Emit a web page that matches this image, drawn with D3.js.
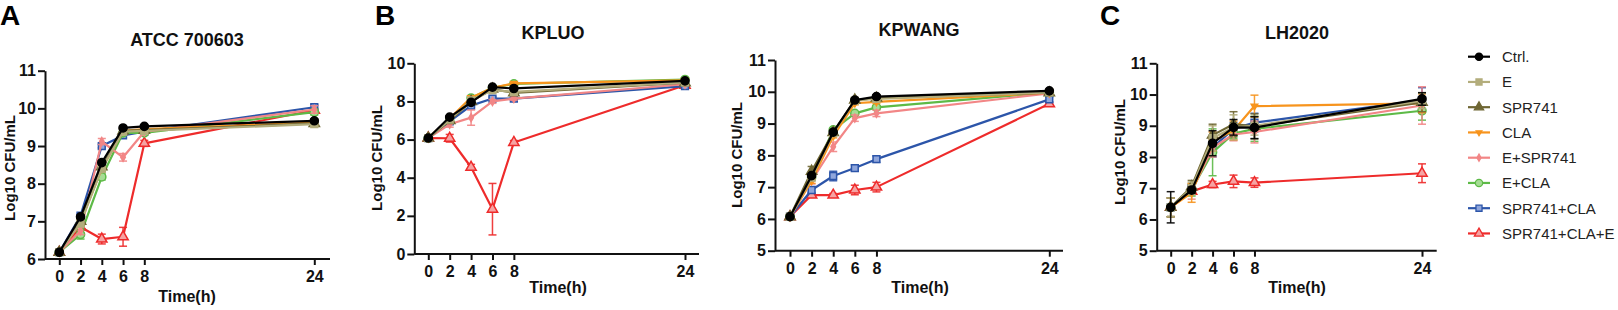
<!DOCTYPE html>
<html>
<head>
<meta charset="utf-8">
<script src="https://cdn.jsdelivr.net/npm/d3@7"></script>
<style>
  html, body { margin: 0; padding: 0; background: #fff; }
  svg { display: block; }
  text { font-family: "Liberation Sans", Arial, Helvetica, sans-serif; }
</style>
</head>
<body>
<svg id="chart" width="1618" height="310"></svg>
<script>
// ---------- data ----------
const times = [0, 2, 4, 6, 8, 24];
const timeTicks = [0, 2, 4, 6, 8, 24];
const seriesNames = ["Ctrl.", "E", "SPR741", "CLA", "E+SPR741", "E+CLA", "SPR741+CLA", "SPR741+CLA+E"];
const seriesColors = ["#000000", "#b3ad7c", "#6e6633", "#f7941d", "#f28686", "#5dba47", "#2c55a9", "#ee2b2b"];
const seriesFills  = ["#000000", "#b3ad7c", "#6e6633", "#f7941d", "#f28686", "#a6dc95", "#8fa6dc", "#f6a3a3"];

const panelTitles = ["ATCC 700603", "KPLUO", "KPWANG", "LH2020"];
const panelLetters = ["A", "B", "C"];
const yTicksATCC = [6, 7, 8, 9, 10, 11];
const yTicksKPLUO = [0, 2, 4, 6, 8, 10];
const yTicksKPWANG = [5, 6, 7, 8, 9, 10, 11];
const yTicksLH2020 = [5, 6, 7, 8, 9, 10, 11];

// values (Log10 CFU/mL), one row per series in seriesNames order
const atccValues = [
  [6.18, 7.12, 8.56, 9.48, 9.52, 9.67],
  [6.18, 6.95, 8.40, 9.38, 9.40, 9.58],
  [6.18, 7.00, 8.45, 9.40, 9.42, 9.60],
  [6.18, 6.98, 8.40, 9.40, 9.45, 9.62],
  [6.18, 6.75, 9.12, 8.70, 9.38, 9.97],
  [6.18, 6.65, 8.18, 9.35, 9.35, 9.90],
  [6.18, 7.15, 9.00, 9.28, 9.38, 10.03],
  [6.18, 6.85, 6.53, 6.59, 9.07, 9.95]
];
const atccErrors = [
  [0.03, 0.05, 0.05, 0.05, 0.04, 0.05],
  [0.03, 0.10, 0.10, 0.05, 0.05, 0.05],
  [0.03, 0.08, 0.08, 0.05, 0.05, 0.05],
  [0.03, 0.08, 0.08, 0.05, 0.05, 0.05],
  [0.03, 0.10, 0.08, 0.10, 0.05, 0.10],
  [0.03, 0.12, 0.08, 0.05, 0.05, 0.08],
  [0.03, 0.05, 0.05, 0.05, 0.05, 0.06],
  [0.03, 0.05, 0.13, 0.25, 0.08, 0.05]
];

const kpluoValues = [
  [6.08, 7.18, 7.95, 8.75, 8.68, 9.08],
  [6.08, 7.05, 8.05, 8.60, 8.50, 9.00],
  [6.08, 7.00, 8.00, 8.65, 8.45, 8.98],
  [6.08, 7.10, 8.20, 8.72, 8.95, 9.10],
  [6.08, 6.80, 7.15, 8.00, 8.15, 8.90],
  [6.08, 7.00, 8.18, 8.72, 8.92, 9.15],
  [6.08, 6.95, 7.78, 8.15, 8.15, 8.80],
  [6.08, 6.07, 4.55, 2.35, 5.85, 8.85]
];
const kpluoErrors = [
  [0.05, 0.05, 0.05, 0.05, 0.05, 0.05],
  [0.05, 0.05, 0.05, 0.05, 0.05, 0.05],
  [0.05, 0.05, 0.05, 0.05, 0.05, 0.05],
  [0.05, 0.05, 0.05, 0.05, 0.05, 0.05],
  [0.05, 0.15, 0.40, 0.10, 0.08, 0.05],
  [0.05, 0.05, 0.05, 0.05, 0.05, 0.05],
  [0.05, 0.05, 0.08, 0.08, 0.08, 0.05],
  [0.05, 0.20, 0.15, 1.35, 0.10, 0.05]
];

const kpwangValues = [
  [6.07, 7.36, 8.73, 9.74, 9.85, 10.03],
  [6.07, 7.30, 8.70, 9.72, 9.78, 9.98],
  [6.07, 7.50, 8.72, 9.74, 9.80, 9.97],
  [6.07, 7.20, 8.60, 9.64, 9.68, 9.97],
  [6.07, 7.20, 8.27, 9.17, 9.32, 9.95],
  [6.07, 7.30, 8.80, 9.32, 9.51, 9.98],
  [6.07, 6.91, 7.35, 7.60, 7.88, 9.76],
  [6.07, 6.75, 6.75, 6.91, 7.00, 9.62]
];
const kpwangErrors = [
  [0.04, 0.05, 0.05, 0.05, 0.05, 0.04],
  [0.04, 0.10, 0.05, 0.05, 0.05, 0.04],
  [0.04, 0.15, 0.05, 0.05, 0.05, 0.04],
  [0.04, 0.08, 0.05, 0.05, 0.05, 0.04],
  [0.04, 0.10, 0.15, 0.10, 0.10, 0.05],
  [0.04, 0.08, 0.05, 0.05, 0.05, 0.04],
  [0.04, 0.08, 0.15, 0.10, 0.10, 0.08],
  [0.04, 0.05, 0.05, 0.15, 0.15, 0.05]
];

const lh2020Values = [
  [6.39, 6.94, 8.44, 8.95, 8.94, 9.86],
  [6.39, 7.00, 8.60, 8.95, 9.00, 9.80],
  [6.39, 7.05, 8.70, 9.05, 8.98, 9.75],
  [6.39, 6.85, 8.50, 8.85, 9.63, 9.72],
  [6.39, 6.90, 8.30, 8.72, 8.80, 9.65],
  [6.39, 6.95, 8.15, 8.75, 8.90, 9.48],
  [6.39, 7.00, 8.30, 8.90, 9.10, 9.82],
  [6.39, 6.90, 7.12, 7.22, 7.18, 7.48]
];
const lh2020Errors = [
  [0.50, 0.10, 0.40, 0.25, 0.35, 0.20],
  [0.30, 0.20, 0.40, 0.40, 0.30, 0.25],
  [0.30, 0.20, 0.35, 0.40, 0.40, 0.30],
  [0.30, 0.30, 0.30, 0.30, 0.35, 0.30],
  [0.30, 0.25, 0.30, 0.20, 0.35, 0.60],
  [0.30, 0.20, 0.75, 0.15, 0.40, 0.30],
  [0.30, 0.10, 0.30, 0.20, 0.30, 0.40],
  [0.05, 0.10, 0.10, 0.20, 0.15, 0.30]
];

// ---------- drawing ----------
const svg = d3.select("#chart");
const FONT = '"Liberation Sans", Arial, Helvetica, sans-serif';

const symbolTypes = [d3.symbolCircle, d3.symbolSquare, d3.symbolTriangle, d3.symbolTriangle,
                     d3.symbolDiamond, d3.symbolCircle, d3.symbolSquare, d3.symbolTriangle];
const symbolSizes = [52, 46, 46, 18, 18, 52, 46, 46];
const symbolRotate = [0, 0, 0, 180, 0, 0, 0, 0];

const panels = [
  { title: panelTitles[0], values: atccValues, errors: atccErrors, yDomain: [6, 11], yTicks: yTicksATCC,
    axisX: 45, axisEnd: 330, x0: 59.3, x24: 314.3, yTop: 70.7, yBot: 259,
    titleX: 187, titleY: 46, xlabX: 187, xlabY: 302, ylabX: 15, ylabY: 168 },
  { title: panelTitles[1], values: kpluoValues, errors: kpluoErrors, yDomain: [0, 10], yTicks: yTicksKPLUO,
    axisX: 414.3, axisEnd: 699, x0: 428.3, x24: 685, yTop: 63.3, yBot: 254,
    titleX: 553, titleY: 39, xlabX: 558, xlabY: 293, ylabX: 382, ylabY: 158 },
  { title: panelTitles[2], values: kpwangValues, errors: kpwangErrors, yDomain: [5, 11], yTicks: yTicksKPWANG,
    axisX: 775, axisEnd: 1063, x0: 790, x24: 1049.3, yTop: 60, yBot: 250.7,
    titleX: 919, titleY: 36, xlabX: 920, xlabY: 293, ylabX: 742, ylabY: 155 },
  { title: panelTitles[3], values: lh2020Values, errors: lh2020Errors, yDomain: [5, 11], yTicks: yTicksLH2020,
    axisX: 1156.7, axisEnd: 1436.7, x0: 1170.7, x24: 1422, yTop: 63.3, yBot: 250.7,
    titleX: 1297, titleY: 39, xlabX: 1297, xlabY: 293, ylabX: 1125, ylabY: 152 }
];

function symbolPath(i, scale) {
  return d3.symbol().type(symbolTypes[i]).size(symbolSizes[i] * (scale || 1))();
}

panels.forEach(p => {
  const g = svg.append("g");
  const x = d3.scaleLinear().domain([0, 24]).range([p.x0, p.x24]);
  const y = d3.scaleLinear().domain(p.yDomain).range([p.yBot, p.yTop]);

  // y axis
  const ya = g.append("g").attr("transform", `translate(${p.axisX},0)`)
    .call(d3.axisLeft(y).tickValues(p.yTicks).tickFormat(d3.format("d"))
      .tickSize(7).tickPadding(2).tickSizeOuter(0));
  ya.select(".domain").attr("stroke", "#111").attr("stroke-width", 2);
  ya.selectAll(".tick line").attr("stroke", "#111").attr("stroke-width", 2);
  ya.selectAll(".tick text").attr("font-family", FONT).attr("font-size", 16)
    .attr("font-weight", "bold").attr("fill", "#111");

  // x axis
  const xa = g.append("g").attr("transform", `translate(0,${p.yBot})`)
    .call(d3.axisBottom(x).tickValues(timeTicks).tickFormat(d3.format("d"))
      .tickSize(6).tickPadding(5.5).tickSizeOuter(0));
  xa.select(".domain").remove();
  xa.append("line").attr("x1", p.axisX).attr("x2", p.axisEnd).attr("y1", 0).attr("y2", 0)
    .attr("stroke", "#111").attr("stroke-width", 2);
  xa.selectAll(".tick line").attr("stroke", "#111").attr("stroke-width", 2);
  xa.selectAll(".tick text").attr("font-family", FONT).attr("font-size", 16)
    .attr("font-weight", "bold").attr("fill", "#111");

  // titles
  g.append("text").attr("x", p.titleX).attr("y", p.titleY).attr("text-anchor", "middle")
    .attr("font-size", 18).attr("font-weight", "bold").attr("fill", "#111").text(p.title);
  g.append("text").attr("x", p.xlabX).attr("y", p.xlabY).attr("text-anchor", "middle")
    .attr("font-size", 16).attr("font-weight", "bold").attr("fill", "#111").text("Time(h)");
  g.append("text").attr("transform", `translate(${p.ylabX},${p.ylabY}) rotate(-90)`)
    .attr("text-anchor", "middle").attr("font-size", 15).attr("font-weight", "bold")
    .attr("fill", "#111").text("Log10 CFU/mL");

  // series (drawn in reverse so Ctrl. is on top)
  const line = d3.line().x(d => x(d.t)).y(d => y(d.v));
  for (let i = seriesNames.length - 1; i >= 0; i--) {
    const pts = times.map((t, j) => ({ t, v: p.values[i][j], e: p.errors[i][j] }));
    const sg = g.append("g");
    pts.forEach(d => {
      const x0 = x(d.t), yTop = y(d.v + d.e), yBot = y(d.v - d.e);
      sg.append("line").attr("x1", x0).attr("x2", x0).attr("y1", yTop).attr("y2", yBot)
        .attr("stroke", seriesColors[i]).attr("stroke-width", 1.5).attr("opacity", 0.9);
      [yTop, yBot].forEach(yy => sg.append("line").attr("x1", x0 - 4).attr("x2", x0 + 4)
        .attr("y1", yy).attr("y2", yy).attr("stroke", seriesColors[i]).attr("stroke-width", 1.5).attr("opacity", 0.9));
    });
    sg.append("path").datum(pts).attr("d", line).attr("fill", "none")
      .attr("stroke", seriesColors[i]).attr("stroke-width", 2.2).attr("stroke-linejoin", "round");
    sg.selectAll("path.m").data(pts).join("path").attr("class", "m")
      .attr("d", symbolPath(i))
      .attr("transform", d => `translate(${x(d.t)},${y(d.v)}) rotate(${symbolRotate[i]})`)
      .attr("fill", seriesFills[i]).attr("stroke", seriesColors[i]).attr("stroke-width", 1.5);
  }
});

// panel letters
const letterPos = [[0, 25], [375, 25], [1100, 25]];
panelLetters.forEach((l, i) => {
  svg.append("text").attr("x", letterPos[i][0]).attr("y", letterPos[i][1])
    .attr("font-size", 28).attr("font-weight", "bold").attr("fill", "#000").text(l);
});

// legend
const legend = svg.append("g").attr("transform", "translate(1468,56.7)");
seriesNames.forEach((name, i) => {
  const row = legend.append("g").attr("transform", `translate(0,${i * 25.25})`);
  row.append("line").attr("x1", 0).attr("x2", 22).attr("y1", 0).attr("y2", 0)
    .attr("stroke", seriesColors[i]).attr("stroke-width", 2.2);
  row.append("path").attr("d", symbolPath(i, 0.8))
    .attr("transform", `translate(11,0) rotate(${symbolRotate[i]})`)
    .attr("fill", seriesFills[i]).attr("stroke", seriesColors[i]).attr("stroke-width", 1.3);
  row.append("text").attr("x", 34).attr("y", 0).attr("dy", "0.36em")
    .attr("font-size", 15).attr("fill", "#222").text(name);
});
</script>
</body>
</html>
